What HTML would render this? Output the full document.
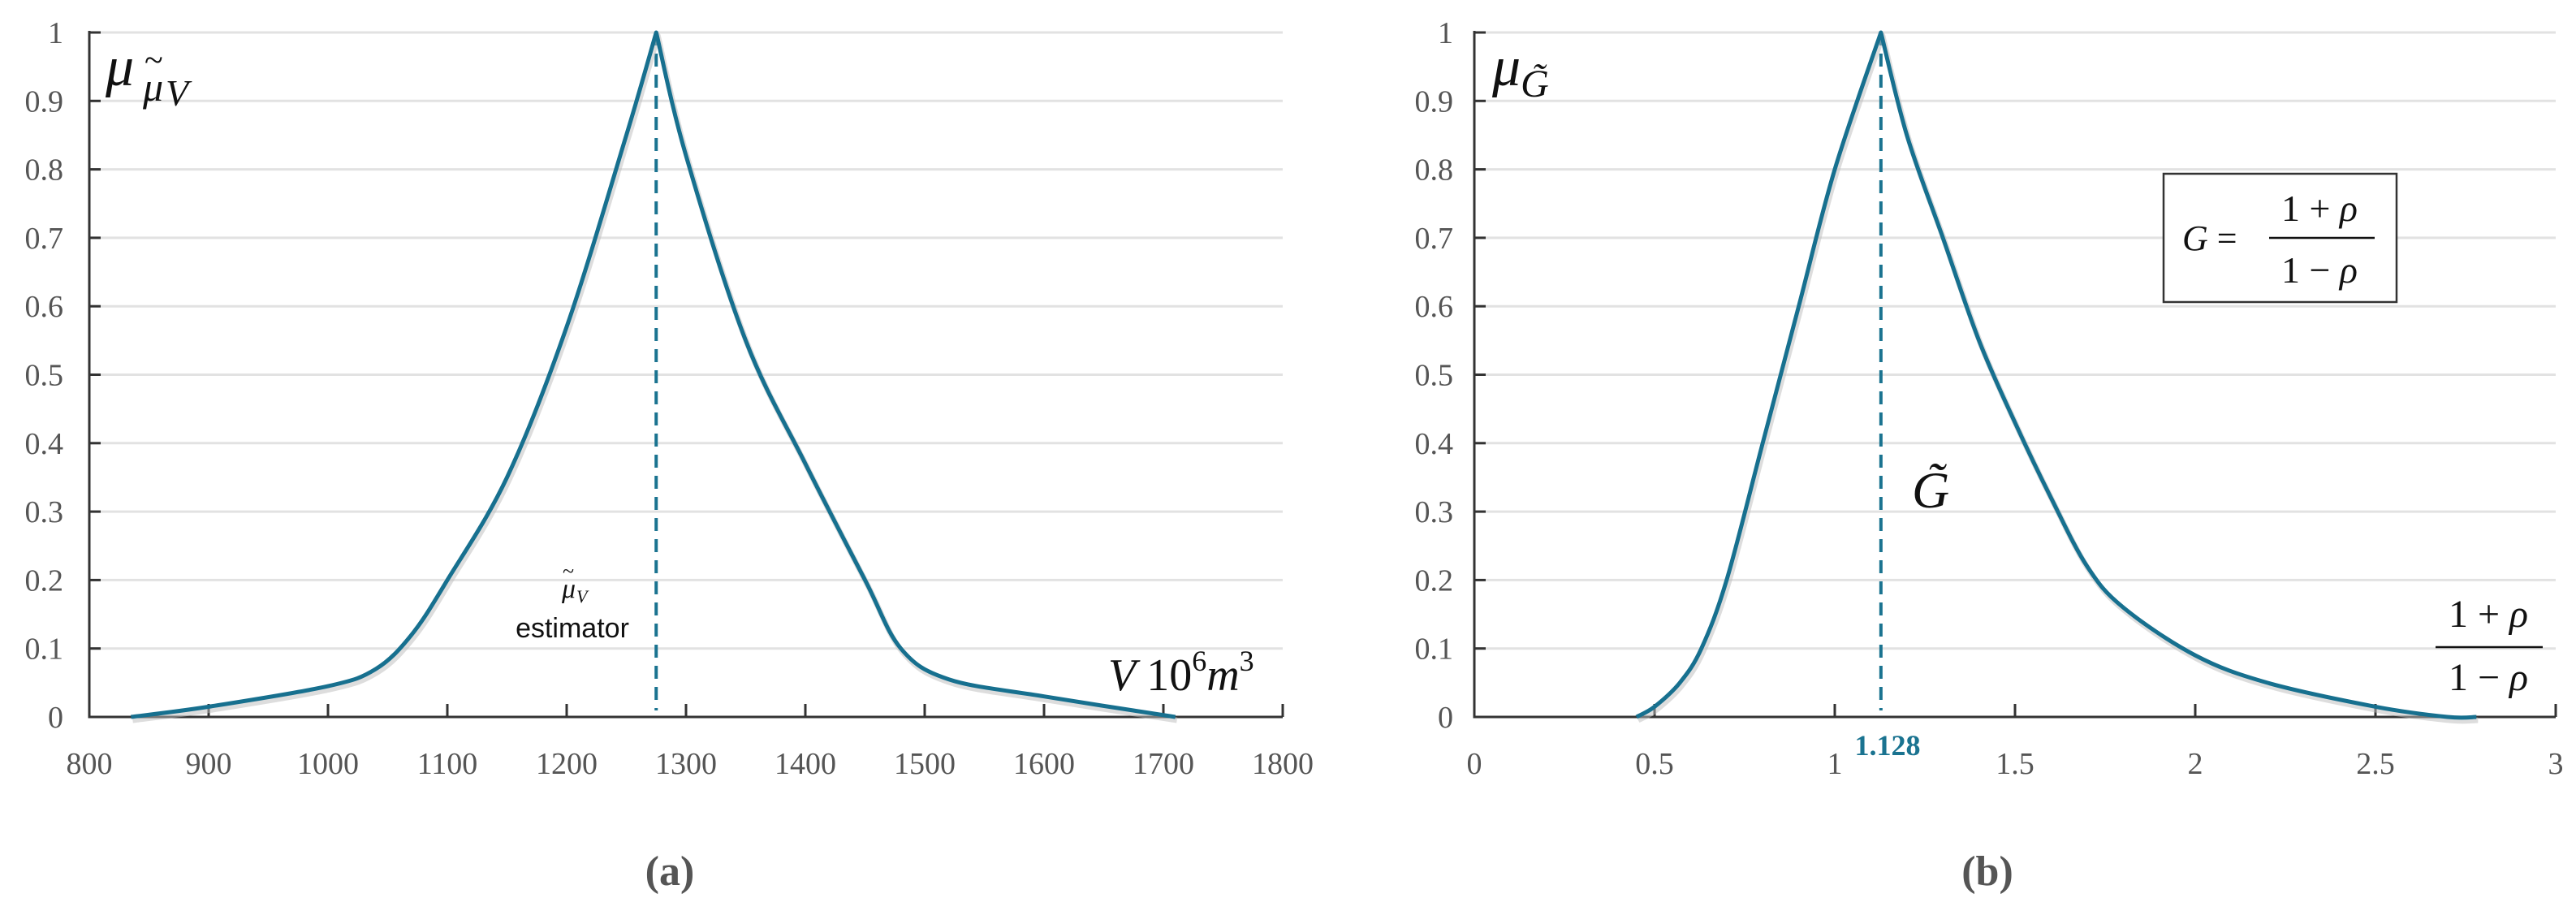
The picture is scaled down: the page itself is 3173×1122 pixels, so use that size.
<!DOCTYPE html>
<html><head><meta charset="utf-8"><style>
body{margin:0;background:#fff}
svg{display:block}
.tk{font-family:"Liberation Serif",serif;font-size:38px;fill:#555}
.m{font-family:"Liberation Serif",serif;font-style:italic;fill:#111}
.n{font-family:"Liberation Serif",serif;fill:#111}
</style></head><body>
<svg id="c" width="3173" height="1122" viewBox="0 0 3173 1122" xmlns="http://www.w3.org/2000/svg">
<g id="gA"></g>
<g id="gB"></g>
<text x="825" y="1090" text-anchor="middle" font-family="Liberation Serif,serif" font-weight="bold" font-size="52" fill="#555">(a)</text>
<text x="2448" y="1090" text-anchor="middle" font-family="Liberation Serif,serif" font-weight="bold" font-size="52" fill="#555">(b)</text>
<g>
<text x="130" y="105" class="m" font-size="70">μ</text>
<text x="176" y="124" class="m" font-size="50">μ</text>
<text x="178" y="88" class="n" font-size="42">~</text>
<text x="204" y="130" class="m" font-size="46">V</text>
</g>
<text x="1365" y="850" class="m" font-size="56">V <tspan font-style="normal">10</tspan><tspan font-size="36" dy="-24" font-style="normal">6</tspan><tspan dy="24">m</tspan><tspan font-size="36" dy="-24" font-style="normal">3</tspan></text>
<g>
<text x="692" y="736" class="m" font-size="34">μ</text>
<text x="693" y="712" class="n" font-size="26">~</text>
<text x="710" y="742" class="m" font-size="22">V</text>
</g>
<text x="705" y="785" text-anchor="middle" font-family="Liberation Sans,sans-serif" font-size="34" fill="#111">estimator</text>
<text x="1838" y="105" class="m" font-size="70">μ<tspan font-size="48" dy="14">G̃</tspan></text>
<text x="2355" y="625" class="m" font-size="64">G̃</text>
<g>
<rect x="2665" y="214" width="287" height="158" fill="#fff" stroke="#333" stroke-width="2.5"/>
<text x="2688" y="308" class="m" font-size="44">G <tspan font-style="normal">=</tspan></text>
<text x="2857" y="272" text-anchor="middle" class="n" font-size="46">1 + <tspan font-style="italic">ρ</tspan></text>
<line x1="2795" y1="293" x2="2925" y2="293" stroke="#111" stroke-width="2.5"/>
<text x="2857" y="348" text-anchor="middle" class="n" font-size="46">1 − <tspan font-style="italic">ρ</tspan></text>
</g>
<g>
<text x="3065" y="772" text-anchor="middle" class="n" font-size="48">1 + <tspan font-style="italic">ρ</tspan></text>
<line x1="3000" y1="797" x2="3132" y2="797" stroke="#111" stroke-width="2.5"/>
<text x="3065" y="850" text-anchor="middle" class="n" font-size="48">1 − <tspan font-style="italic">ρ</tspan></text>
</g>
<text x="2325" y="930" text-anchor="middle" font-family="Liberation Serif,serif" font-weight="bold" font-size="36" fill="#1a7390">1.128</text>
</svg>
<script>
const aX = [835,900,1000,1040,1070,1100,1150,1200,1250,1275,1300,1350,1400,1450,1480,1520,1600,1710];
const aY = [0,0.015,0.045,0.07,0.12,0.2,0.35,0.57,0.85,1,0.82,0.55,0.37,0.2,0.1,0.055,0.03,0];
const bX = [0.45,0.5,0.57,0.63,0.7,0.8,0.9,1,1.128,1.2,1.3,1.4,1.5,1.6,1.7,1.8,2,2.2,2.5,2.7,2.78];
const bY = [0,0.015,0.05,0.1,0.2,0.4,0.6,0.8,1,0.85,0.7,0.55,0.43,0.32,0.22,0.16,0.09,0.05,0.015,0,0];
const aTicks = [800,900,1000,1100,1200,1300,1400,1500,1600,1700,1800];
const bTicks = [0,0.5,1,1.5,2,2.5,3];
const bTickLabels = ["0","0.5","1","1.5","2","2.5","3"];
const yTicks = [0,0.1,0.2,0.3,0.4,0.5,0.6,0.7,0.8,0.9,1];
const aPeak = 1275, bPeak = 1.128;
const NS="http://www.w3.org/2000/svg";
function mk(p,t,at){const e=document.createElementNS(NS,t);for(const k in at)e.setAttribute(k,at[k]);p.appendChild(e);return e;}
function smooth(pts){
 let d='M'+pts[0][0].toFixed(1)+','+pts[0][1].toFixed(1);
 for(let i=0;i<pts.length-1;i++){
  const p0=pts[Math.max(0,i-1)],p1=pts[i],p2=pts[i+1],p3=pts[Math.min(pts.length-1,i+2)];
  const c1=[p1[0]+(p2[0]-p0[0])/6,p1[1]+(p2[1]-p0[1])/6];
  const c2=[p2[0]-(p3[0]-p1[0])/6,p2[1]-(p3[1]-p1[1])/6];
  d+='C'+c1[0].toFixed(1)+','+c1[1].toFixed(1)+' '+c2[0].toFixed(1)+','+c2[1].toFixed(1)+' '+p2[0].toFixed(1)+','+p2[1].toFixed(1);
 }
 return d;
}
function chart(g,xs,ys,ticks,labels,x0px,x1px,xmin,xmax,peak,ylab){
 const y0=883,y1=40;
 const sx=v=>x0px+(v-xmin)/(xmax-xmin)*(x1px-x0px);
 const sy=v=>y0-v*(y0-y1);
 yTicks.forEach(t=>{
  if(t>0){const gl=mk(g,'line',{x1:x0px,x2:x1px,y1:sy(t),y2:sy(t),stroke:'#e2e2e2','stroke-width':3});
  
  }
  mk(g,'line',{x1:x0px,x2:x0px+14,y1:sy(t),y2:sy(t),stroke:'#333','stroke-width':3});
  const tx=mk(g,'text',{x:ylab,y:sy(t)+13,'text-anchor':'end',class:'tk'});
  tx.textContent=String(t);
  
  
 });
 ticks.forEach((t,i)=>{
  mk(g,'line',{x1:sx(t),x2:sx(t),y1:y0,y2:y0-16,stroke:'#333','stroke-width':3});
  const tx=mk(g,'text',{x:sx(t),y:953,'text-anchor':'middle',class:'tk'});
  tx.textContent=labels?labels[i]:String(t);
  
  
 });
 const ax=mk(g,'path',{d:`M${x0px},${y1-2}V${y0}H${x1px}`,fill:'none',stroke:'#333','stroke-width':3});
 
 
 const dl=mk(g,'line',{x1:sx(peak),x2:sx(peak),y1:sy(1),y2:y0-8,stroke:'#1a7390','stroke-width':4,'stroke-dasharray':'16 10'});
 
 
 const pts=xs.map((v,i)=>[sx(v),sy(ys[i])]);
 let pk=ys.indexOf(Math.max(...ys));
 const d=smooth(pts.slice(0,pk+1))+smooth(pts.slice(pk)).replace(/^M[^C]*/,'');
 mk(g,'path',{d:d,fill:'none',stroke:'#bbb','stroke-width':7,opacity:0.5,transform:'translate(2,4)','stroke-linejoin':'round'});
 const ln=mk(g,'path',{d:d,fill:'none',stroke:'#17708f','stroke-width':5,'stroke-linejoin':'round'});
 
 
}
chart(document.getElementById('gA'),aX,aY,aTicks,null,110,1580,800,1800,aPeak,78);
chart(document.getElementById('gB'),bX,bY,bTicks,bTickLabels,1816,3148,0,3,bPeak,1790);
</script>
</body></html>
